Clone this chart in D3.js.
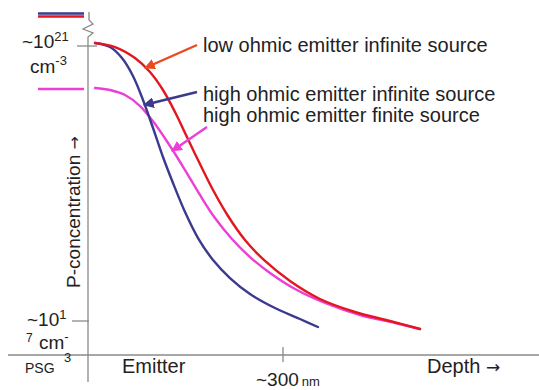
<!DOCTYPE html>
<html>
<head>
<meta charset="utf-8">
<script src="https://cdn.jsdelivr.net/npm/d3@7"></script>
<style>
  html, body { margin: 0; padding: 0; background: #fff; }
  svg { display: block; font-family: "Liberation Sans", Arial, sans-serif; }
</style>
</head>
<body>
<svg id="chart" width="539" height="390"></svg>
<script>
// ---- data (depth in nm, log10 of P concentration in cm^-3) ----
const seriesNames = ["low ohmic emitter infinite source", "high ohmic emitter infinite source", "high ohmic emitter finite source"];
const redDepth  = [9.3, 40.2, 71.1, 94.3, 114.4, 133.0, 151.5, 171.6, 191.8, 215.0, 241.2, 272.2, 310.8, 357.2, 411.3, 465.5, 511.9];
const redLogC   = [21.044, 20.985, 20.825, 20.622, 20.36, 20.04, 19.676, 19.284, 18.905, 18.527, 18.178, 17.873, 17.582, 17.32, 17.131, 17.0, 16.884];
const blueDepth = [9.3, 32.5, 51.0, 68.0, 83.5, 99.0, 114.4, 129.9, 148.5, 168.6, 191.8, 218.0, 249.0, 287.6, 326.3, 354.1];
const blueLogC  = [21.044, 20.985, 20.825, 20.564, 20.215, 19.807, 19.385, 19.007, 18.585, 18.207, 17.887, 17.625, 17.393, 17.189, 17.029, 16.913];
const pinkDepth = [9.3, 32.5, 55.7, 78.9, 102.1, 125.3, 148.5, 171.6, 194.8, 221.1, 249.0, 279.9, 318.6, 365.0, 419.1, 473.2, 511.9];
const pinkLogC  = [20.389, 20.36, 20.287, 20.127, 19.865, 19.545, 19.196, 18.833, 18.498, 18.193, 17.93, 17.698, 17.465, 17.262, 17.087, 16.971, 16.884];
const yTickValues = [17, 21];
const xTickValues = [300];
const xTickLabels = ["~300"];
const regionLabels = ["PSG", "Emitter", "Depth"];
const yAxisTitle = "P-concentration";

const colors = { red: "#e3171f", blue: "#3b3a8f", pink: "#ec3fd6", redArrow: "#ea4a1e", grey: "#8a8a8a", text: "#222" };

const svg = d3.select("#chart");
const x = d3.scaleLinear().domain([0, 300]).range([89, 283]);
const y = d3.scaleLinear().domain([17, 21]).range([321, 46]);
const xAxisY = 355;

// axes
const g = svg.append("g");
g.append("line").attr("x1", 8).attr("x2", 539).attr("y1", xAxisY).attr("y2", xAxisY)
  .attr("stroke", colors.grey).attr("stroke-width", 1.3);
const yx = x(0);
g.append("path")
  .attr("d", `M${yx},12 L${yx},20 L${yx+4},24 L${yx-6},29 L${yx+4},33 L${yx-1},37 L${yx-1},382`)
  .attr("fill", "none").attr("stroke", colors.grey).attr("stroke-width", 1.3);
// y ticks
const yTickExtent = { 21: [77, 97], 17: [72, yx] };
yTickValues.forEach(v => {
  g.append("line").attr("x1", yTickExtent[v][0]).attr("x2", yTickExtent[v][1])
    .attr("y1", y(v)).attr("y2", y(v)).attr("stroke", colors.grey).attr("stroke-width", 1.3);
});
// x ticks
xTickValues.forEach(v => {
  g.append("line").attr("x1", x(v)).attr("x2", x(v)).attr("y1", 347).attr("y2", 362)
    .attr("stroke", colors.grey).attr("stroke-width", 1.3);
});

// curves
const line = d3.line().x(d => x(d[0])).y(d => y(d[1])).curve(d3.curveCatmullRom.alpha(0.5));
const series = [
  { depth: pinkDepth, logc: pinkLogC, color: colors.pink },
  { depth: blueDepth, logc: blueLogC, color: colors.blue },
  { depth: redDepth, logc: redLogC, color: colors.red },
];
series.forEach(s => {
  svg.append("path").datum(d3.zip(s.depth, s.logc))
    .attr("d", line).attr("fill", "none").attr("stroke", s.color)
    .attr("stroke-width", 2.4).attr("stroke-linecap", "round");
});

// legend swatches at left
svg.append("line").attr("x1", 38).attr("x2", 84).attr("y1", 13.5).attr("y2", 13.5).attr("stroke", colors.blue).attr("stroke-width", 2.6);
svg.append("line").attr("x1", 38).attr("x2", 84).attr("y1", 16.5).attr("y2", 16.5).attr("stroke", colors.red).attr("stroke-width", 2.6);
svg.append("line").attr("x1", 38).attr("x2", 84).attr("y1", y(pinkLogC[0]) + 1).attr("y2", y(pinkLogC[0]) + 1).attr("stroke", colors.pink).attr("stroke-width", 2.6);

// arrows
const defs = svg.append("defs");
function marker(id, color) {
  defs.append("marker").attr("id", id).attr("viewBox", "0 0 10 10").attr("refX", 9).attr("refY", 5)
    .attr("markerWidth", 4.5).attr("markerHeight", 4.5).attr("orient", "auto")
    .append("path").attr("d", "M0,0 L10,5 L0,10 z").attr("fill", color);
}
marker("mr", colors.redArrow); marker("mb", colors.blue); marker("mp", colors.pink);
const arrows = [
  { from: [197, 45], to: [145, 68], color: colors.redArrow, m: "mr" },
  { from: [197, 92], to: [144, 105], color: colors.blue, m: "mb" },
  { from: [207, 127], to: [172, 151], color: colors.pink, m: "mp" },
];
arrows.forEach(a => {
  svg.append("line").attr("x1", a.from[0]).attr("y1", a.from[1]).attr("x2", a.to[0]).attr("y2", a.to[1])
    .attr("stroke", a.color).attr("stroke-width", 2.4).attr("marker-end", `url(#${a.m})`);
});

// series labels
const labelY = [52, 101, 122];
seriesNames.forEach((n, i) => {
  svg.append("text").attr("x", 203).attr("y", labelY[i]).attr("font-size", 20).attr("fill", colors.text).text(n);
});

// y tick labels
const t21 = svg.append("text").attr("x", 22).attr("y", 48).attr("font-size", 19).attr("fill", colors.text);
t21.append("tspan").text("~10");
t21.append("tspan").attr("dy", -7).attr("font-size", 13).text("21");
const cm1 = svg.append("text").attr("x", 30).attr("y", 73).attr("font-size", 19).attr("fill", colors.text);
cm1.append("tspan").text("cm");
cm1.append("tspan").attr("dy", -8).attr("font-size", 13).text("-3");

const t17 = svg.append("text").attr("x", 27).attr("y", 326).attr("font-size", 19).attr("fill", colors.text);
t17.append("tspan").text("~10");
t17.append("tspan").attr("dy", -7).attr("font-size", 13).text("1");
svg.append("text").attr("x", 26).attr("y", 342).attr("font-size", 12).attr("fill", colors.text).text("7");
const cm2 = svg.append("text").attr("x", 39).attr("y", 349).attr("font-size", 19).attr("fill", colors.text);
cm2.append("tspan").text("cm");
cm2.append("tspan").attr("dy", -8).attr("font-size", 13).text("-");
svg.append("text").attr("x", 64).attr("y", 362).attr("font-size", 13).attr("fill", colors.text).text("3");

// x labels
svg.append("text").attr("x", 25).attr("y", 373).attr("font-size", 14).attr("fill", colors.text).text(regionLabels[0]);
svg.append("text").attr("x", 122).attr("y", 373).attr("font-size", 20).attr("fill", colors.text).text(regionLabels[1]);
const depthT = svg.append("text").attr("x", 427).attr("y", 373).attr("font-size", 20).attr("fill", colors.text);
depthT.append("tspan").text(regionLabels[2] + " ");
depthT.append("tspan").attr("font-family", "DejaVu Sans").attr("font-size", 17).text("→");
const t300 = svg.append("text").attr("x", 256).attr("y", 386).attr("font-size", 19).attr("fill", colors.text);
xTickValues.forEach((v, i) => {
  t300.append("tspan").text(xTickLabels[i]);
  t300.append("tspan").attr("font-size", 13).attr("dx", 3).text("nm");
});

// y axis title
const yt = svg.append("text").attr("transform", "translate(80,212) rotate(-90)").attr("text-anchor", "middle")
  .attr("font-size", 19).attr("fill", colors.text);
yt.append("tspan").text(yAxisTitle + " ");
yt.append("tspan").attr("font-family", "DejaVu Sans").attr("font-size", 16).text("→");
</script>
</body>
</html>
